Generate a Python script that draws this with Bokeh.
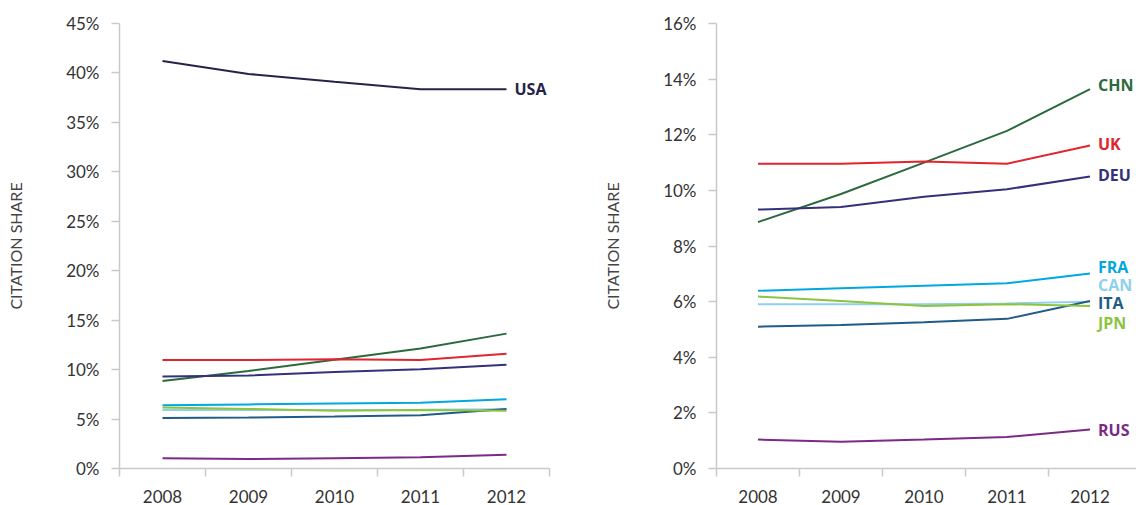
from bokeh.plotting import figure
from bokeh.layouts import row
from bokeh.models import FixedTicker, Range1d, CustomJSTickFormatter
from bokeh.core.properties import value
from bokeh.embed import file_html
from bokeh.resources import INLINE

years = [2008, 2009, 2010, 2011, 2012]

usa = [41.2, 39.9, 39.1, 38.35, 38.35]
chn = [8.86, 9.87, 11.0, 12.14, 13.64]
uk = [10.96, 10.96, 11.04, 10.96, 11.61]
deu = [9.31, 9.40, 9.77, 10.04, 10.50]
fra = [6.39, 6.48, 6.57, 6.66, 7.01]
can = [5.91, 5.91, 5.91, 5.93, 6.00]
ita = [5.10, 5.16, 5.26, 5.38, 6.02]
jpn = [6.18, 6.02, 5.84, 5.91, 5.84]
rus = [1.04, 0.96, 1.04, 1.13, 1.40]

left_ticks = [0, 5, 10, 15, 20, 25, 30, 35, 40, 45]
right_ticks = [0, 2, 4, 6, 8, 10, 12, 14, 16]

names = ["CHN", "UK", "DEU", "FRA", "CAN", "ITA", "JPN", "RUS"]
values = [chn, uk, deu, fra, can, ita, jpn, rus]
colors = ["#2b6a3e", "#e1242e", "#34307b", "#00a8df", "#8fd0ea", "#215b88", "#8cc43f", "#7b2a86"]
label_y = [13.79, 11.65, 10.54, 7.23, 6.58, 5.94, 5.22, 1.40]
usa_color = "#24244a"

FONT = "Lato"
LBL_FONT = "Open Sans"
AX_COL = "#c9c9c9"
TXT_COL = "#333333"


def style(p, yticks, minor_x):
    p.outline_line_color = None
    p.xgrid.visible = False
    p.ygrid.visible = False
    xa = p.xaxis[0]
    xa.ticker = FixedTicker(ticks=years, minor_ticks=minor_x)
    xa.formatter = CustomJSTickFormatter(code="return tick.toFixed(0)")
    xa.major_tick_out = 0
    xa.major_tick_in = 0
    xa.minor_tick_out = 8
    xa.minor_tick_in = 0
    xa.minor_tick_line_color = AX_COL
    xa.minor_tick_line_width = 1.5
    xa.axis_line_color = AX_COL
    xa.axis_line_width = 1.5
    xa.major_label_standoff = 13
    xa.major_label_text_font = FONT
    xa.major_label_text_font_size = "17px"
    xa.major_label_text_color = TXT_COL
    ya = p.yaxis[0]
    ya.ticker = FixedTicker(ticks=yticks, minor_ticks=[])
    ya.formatter = CustomJSTickFormatter(code="return tick.toFixed(0) + '%'")
    ya.major_tick_out = 8
    ya.major_tick_in = 0
    ya.minor_tick_out = 0
    ya.minor_tick_in = 0
    ya.major_tick_line_color = AX_COL
    ya.major_tick_line_width = 1.5
    ya.axis_line_color = AX_COL
    ya.axis_line_width = 1.5
    ya.major_label_standoff = 12
    ya.major_label_text_font = FONT
    ya.major_label_text_font_size = "17px"
    ya.major_label_text_color = TXT_COL
    ya.axis_label = "CITATION SHARE"
    ya.axis_label_text_font = FONT
    ya.axis_label_text_font_size = "16px"
    ya.axis_label_text_font_style = "normal"
    ya.axis_label_text_color = "#444444"
    ya.axis_label_standoff = 38


H = 505
p1 = figure(width=600, height=H, output_backend="svg", toolbar_location=None,
            x_range=Range1d(2007.5, 2012.5), y_range=Range1d(0, 45),
            min_border_left=119, min_border_right=51, min_border_top=23,
            min_border_bottom=35)
style(p1, left_ticks, [y - 0.5 for y in years] + [years[-1] + 0.5])

for vals, col in zip(values, colors):
    p1.line(years, vals, line_color=col, line_width=2)
p1.line(years, usa, line_color=usa_color, line_width=2)
p1.text(x=[years[-1]], y=[usa[-1]], text=["USA"], x_offset=8,
        text_font=value(LBL_FONT), text_font_size="16px", text_font_style="bold",
        text_color=usa_color, text_baseline="middle", text_align="left")

p2 = figure(width=536, height=H, output_backend="svg", toolbar_location=None,
            x_range=Range1d(2007.5, 2012.56), y_range=Range1d(0, 16),
            min_border_left=111, min_border_right=0, min_border_top=23,
            min_border_bottom=35)
style(p2, right_ticks, [y - 0.5 for y in years])

for vals, col in zip(values, colors):
    p2.line(years, vals, line_color=col, line_width=2)
p2.text(x=[years[-1]] * len(names), y=label_y, text=names, x_offset=8,
        text_font=value(LBL_FONT), text_font_size="16px", text_font_style="bold",
        text_color=colors, text_baseline="middle", text_align="left")

layout = row(p1, p2, spacing=0)
open("out.html", "w").write(file_html(layout, INLINE))
